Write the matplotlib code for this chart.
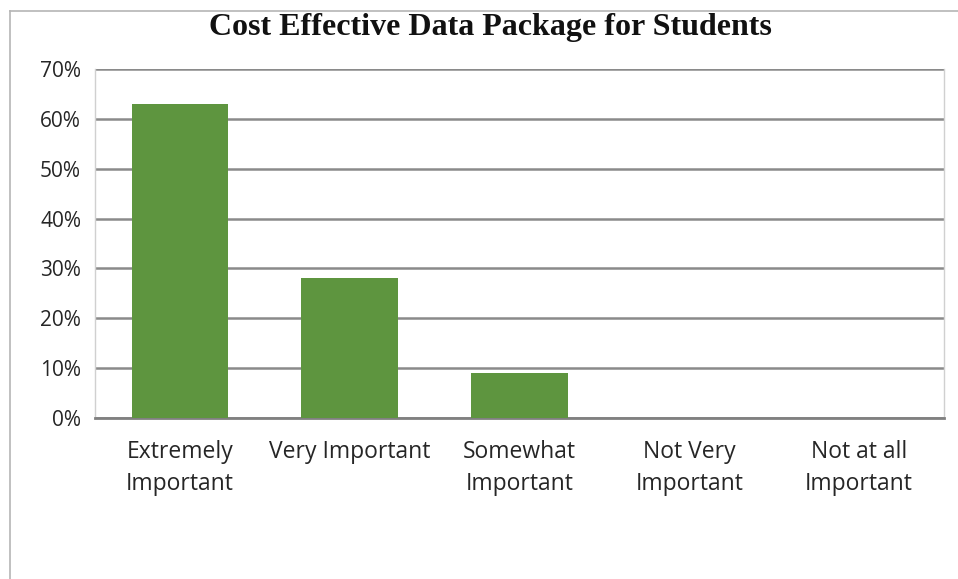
import matplotlib.pyplot as plt
from matplotlib.lines import Line2D
from matplotlib.ticker import FuncFormatter

categories = ["Extremely\nImportant", "Very Important", "Somewhat\nImportant",
              "Not Very\nImportant", "Not at all\nImportant"]
values = [63, 28, 9, 0, 0]
yticks = [0, 10, 20, 30, 40, 50, 60, 70]

fig = plt.figure(figsize=(9.58, 5.79), dpi=100)
ax = fig.add_axes([95 / 958, 161 / 579, 849 / 958, 349 / 579])

x = range(len(categories))
ax.bar(x, values, width=0.57, color="#5e953f", zorder=3)

ax.set_xlim(-0.5, len(categories) - 0.5)
ax.set_ylim(0, 70)
ax.set_yticks(yticks)
ax.yaxis.set_major_formatter(FuncFormatter(lambda v, _: f"{int(v)}%"))
ax.set_xticks(list(x))
ax.set_xticklabels(categories, fontsize=16.5, family="Open Sans",
                   color="#262626", linespacing=1.45)
for lab in ax.get_yticklabels():
    lab.set_fontsize(15)
    lab.set_family("Open Sans")
    lab.set_color("#262626")
ax.tick_params(axis="both", length=0)
ax.tick_params(axis="x", pad=16)
ax.tick_params(axis="y", pad=10)

ax.grid(axis="y", color="#8a8a8a", linewidth=1.8, zorder=0)
for side in ("left", "right"):
    ax.spines[side].set_color("#d0d0d0")
    ax.spines[side].set_linewidth(1.0)
ax.spines["top"].set_visible(False)
ax.spines["bottom"].set_color("#808080")
ax.spines["bottom"].set_linewidth(2.0)

fig.text(490 / 958, 1 - 27 / 579, "Cost Effective Data Package for Students",
         ha="center", va="center", fontsize=23, fontweight="bold",
         family="Liberation Serif", color="#111111")

# outer chart frame (left and top edges)
frame_kw = dict(color="#b5b5b5", linewidth=1.2, transform=fig.transFigure)
fig.add_artist(Line2D([10 / 958, 10 / 958], [0, 1 - 11 / 579], **frame_kw))
fig.add_artist(Line2D([10 / 958, 1.0], [1 - 11 / 579, 1 - 11 / 579], **frame_kw))

fig.savefig("out.png", dpi=100, facecolor="white")
